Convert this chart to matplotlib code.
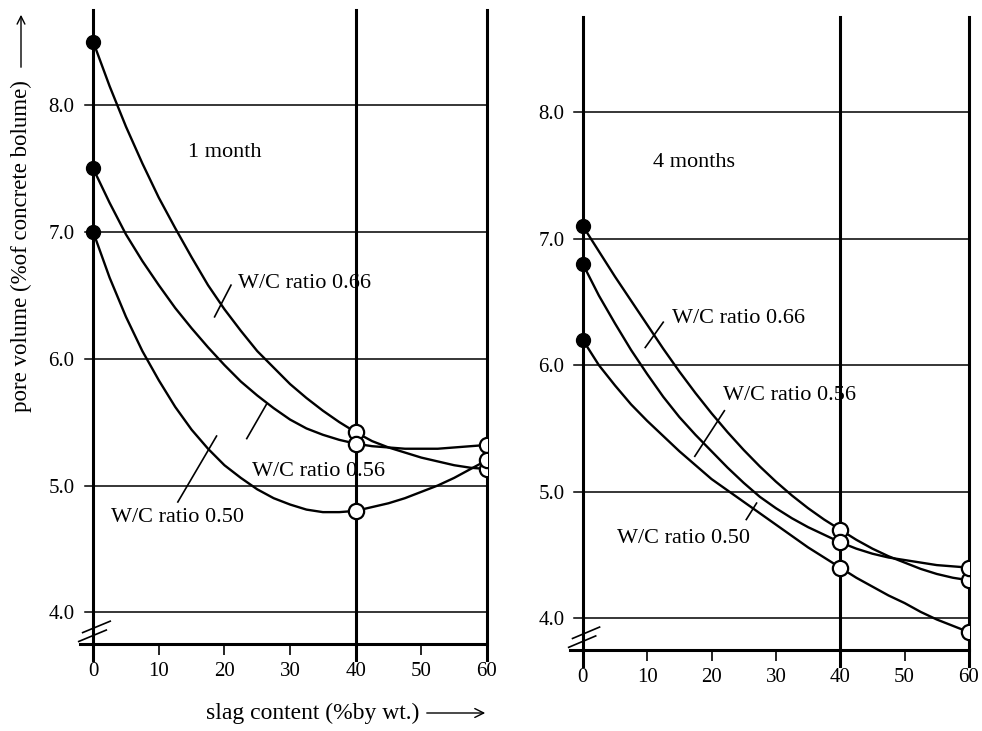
import matplotlib
matplotlib.use("Agg")
import matplotlib.pyplot as plt
from matplotlib.patches import FancyArrowPatch

plt.rcParams['font.family'] = ['Liberation Serif', 'DejaVu Serif']

# ---------------- data ----------------
slag_points = [0, 40, 60]
m1_wc066 = [8.5, 5.42, 5.13]
m1_wc056 = [7.5, 5.33, 5.32]
m1_wc050 = [7.0, 4.80, 5.20]
m4_wc066 = [7.1, 4.70, 4.30]
m4_wc056 = [6.8, 4.60, 4.40]
m4_wc050 = [6.2, 4.40, 3.89]

# fitted curves
curve_x = [0, 2.5, 5, 7.5, 10, 12.5, 15, 17.5, 20, 22.5, 25, 27.5, 30,
           32.5, 35, 37.5, 40, 42.5, 45, 47.5, 50, 52.5, 55, 57.5, 60]
c1_wc066 = [8.50, 8.15, 7.83, 7.54, 7.27, 7.03, 6.80, 6.58, 6.39, 6.22, 6.06, 5.93, 5.80,
            5.69, 5.59, 5.50, 5.42, 5.35, 5.30, 5.26, 5.22, 5.19, 5.16, 5.14, 5.13]
c1_wc056 = [7.50, 7.23, 6.98, 6.77, 6.58, 6.40, 6.24, 6.09, 5.95, 5.82, 5.71, 5.61, 5.52,
            5.45, 5.40, 5.36, 5.33, 5.31, 5.30, 5.29, 5.29, 5.29, 5.30, 5.31, 5.32]
c1_wc050 = [7.00, 6.64, 6.33, 6.06, 5.83, 5.62, 5.44, 5.29, 5.16, 5.06, 4.97, 4.90, 4.85,
            4.81, 4.79, 4.79, 4.80, 4.83, 4.86, 4.90, 4.95, 5.00, 5.06, 5.13, 5.20]
c4_wc066 = [7.10, 6.90, 6.70, 6.51, 6.32, 6.13, 5.95, 5.78, 5.62, 5.47, 5.33, 5.20, 5.08,
            4.97, 4.87, 4.78, 4.70, 4.62, 4.55, 4.49, 4.44, 4.39, 4.35, 4.32, 4.30]
c4_wc056 = [6.80, 6.55, 6.33, 6.12, 5.93, 5.75, 5.59, 5.45, 5.32, 5.19, 5.07, 4.96, 4.87,
            4.79, 4.72, 4.66, 4.60, 4.55, 4.51, 4.48, 4.46, 4.44, 4.42, 4.41, 4.40]
c4_wc050 = [6.20, 6.00, 5.84, 5.69, 5.56, 5.44, 5.32, 5.21, 5.10, 5.01, 4.92, 4.83, 4.74,
            4.65, 4.56, 4.48, 4.40, 4.32, 4.25, 4.18, 4.12, 4.05, 3.99, 3.94, 3.89]

x_ticks = [0, 10, 20, 30, 40, 50, 60]
y_ticks = [4.0, 5.0, 6.0, 7.0, 8.0]
y_tick_labels = ["4.0", "5.0", "6.0", "7.0", "8.0"]
series_labels = ["W/C ratio 0.66", "W/C ratio 0.56", "W/C ratio 0.50"]
panel_titles = ["1 month", "4 months"]

# ---------------- figure ----------------
fig = plt.figure(figsize=(9.82, 7.31), dpi=100)
axL = fig.add_axes([0.0815, 0.119, 0.4144, 0.876])
axR = fig.add_axes([0.5804, 0.111, 0.4063, 0.874])

FS_TICK = 15
FS_LAB = 16


def setup(ax):
    ax.set_xlim(-2, 60)
    ax.set_ylim(3.75, 8.8)
    for s in ['top', 'right', 'left']:
        ax.spines[s].set_visible(False)
    ax.spines['bottom'].set_linewidth(2.2)
    ax.set_xticks(x_ticks)
    ax.set_xticklabels([str(t) for t in x_ticks], fontsize=FS_TICK)
    ax.tick_params(axis='x', direction='out', length=8, width=1.2, pad=5)
    ax.set_yticks(y_ticks)
    ax.set_yticklabels(y_tick_labels, fontsize=FS_TICK)
    ax.tick_params(axis='y', length=0, pad=4)
    # grid
    for yv in y_ticks:
        ax.plot([-1.3, 60], [yv, yv], color='black', lw=1.1, zorder=1, clip_on=False)
    for xv in [0, 40, 60]:
        ax.plot([xv, xv], [3.62, 8.75], color='black', lw=2.2, zorder=1, clip_on=False)
    # axis break marks
    ax.plot([-1.6, 2.6], [3.84, 3.93], color='black', lw=1.2, clip_on=False)
    ax.plot([-2.2, 2.0], [3.77, 3.86], color='black', lw=1.2, clip_on=False)


def draw(ax, curves, points):
    for cy, py in zip(curves, points):
        ax.plot(curve_x, cy, color='black', lw=1.7, zorder=3)
        ax.plot(slag_points[:1], py[:1], 'o', ms=10, mfc='black', mec='black', zorder=5)
        ax.plot(slag_points[1:], py[1:], 'o', ms=11, mfc='white', mec='black', mew=1.6, zorder=5)


setup(axL)
setup(axR)
draw(axL, [c1_wc066, c1_wc056, c1_wc050], [m1_wc066, m1_wc056, m1_wc050])
draw(axR, [c4_wc066, c4_wc056, c4_wc050], [m4_wc066, m4_wc056, m4_wc050])

# panel titles
axL.text(14.5, 7.63, panel_titles[0], fontsize=FS_LAB, va='center', ha='left')
axR.text(10.9, 7.60, panel_titles[1], fontsize=FS_LAB, va='center', ha='left')

# series labels with leader lines (left)
axL.text(22.0, 6.59, series_labels[0], fontsize=FS_LAB, va='center', ha='left')
axL.plot([18.5, 21.0], [6.33, 6.58], color='black', lw=1.2)
axL.text(24.2, 5.11, series_labels[1], fontsize=FS_LAB, va='center', ha='left')
axL.plot([23.4, 26.4], [5.37, 5.64], color='black', lw=1.2)
axL.text(2.7, 4.75, series_labels[2], fontsize=FS_LAB, va='center', ha='left')
axL.plot([12.9, 18.8], [4.87, 5.39], color='black', lw=1.2)

# series labels with leader lines (right)
axR.text(13.8, 6.37, series_labels[0], fontsize=FS_LAB, va='center', ha='left')
axR.plot([9.7, 12.5], [6.14, 6.34], color='black', lw=1.2)
axR.text(21.8, 5.76, series_labels[1], fontsize=FS_LAB, va='center', ha='left')
axR.plot([17.4, 22.0], [5.28, 5.64], color='black', lw=1.2)
axR.text(5.3, 4.63, series_labels[2], fontsize=FS_LAB, va='center', ha='left')
axR.plot([25.4, 27.0], [4.78, 4.91], color='black', lw=1.2)

# axis labels with arrows
fig.text(21 / 982, 1 - 246 / 731, "pore volume (%of concrete bolume)", rotation=90,
         fontsize=16.5, ha='center', va='center')
fig.add_artist(FancyArrowPatch(
    (21 / 982, 1 - 70 / 731), (21 / 982, 1 - 12 / 731), transform=fig.transFigure,
    arrowstyle='->', mutation_scale=14, lw=1.0, color='black'))

fig.text(313 / 982, 1 - 713 / 731, "slag content (%by wt.)", fontsize=17,
         ha='center', va='center')
fig.add_artist(FancyArrowPatch(
    (424 / 982, 1 - 713 / 731), (488 / 982, 1 - 713 / 731), transform=fig.transFigure,
    arrowstyle='->', mutation_scale=16, lw=1.0, color='black'))

fig.savefig("out.png", dpi=100, facecolor='white')
